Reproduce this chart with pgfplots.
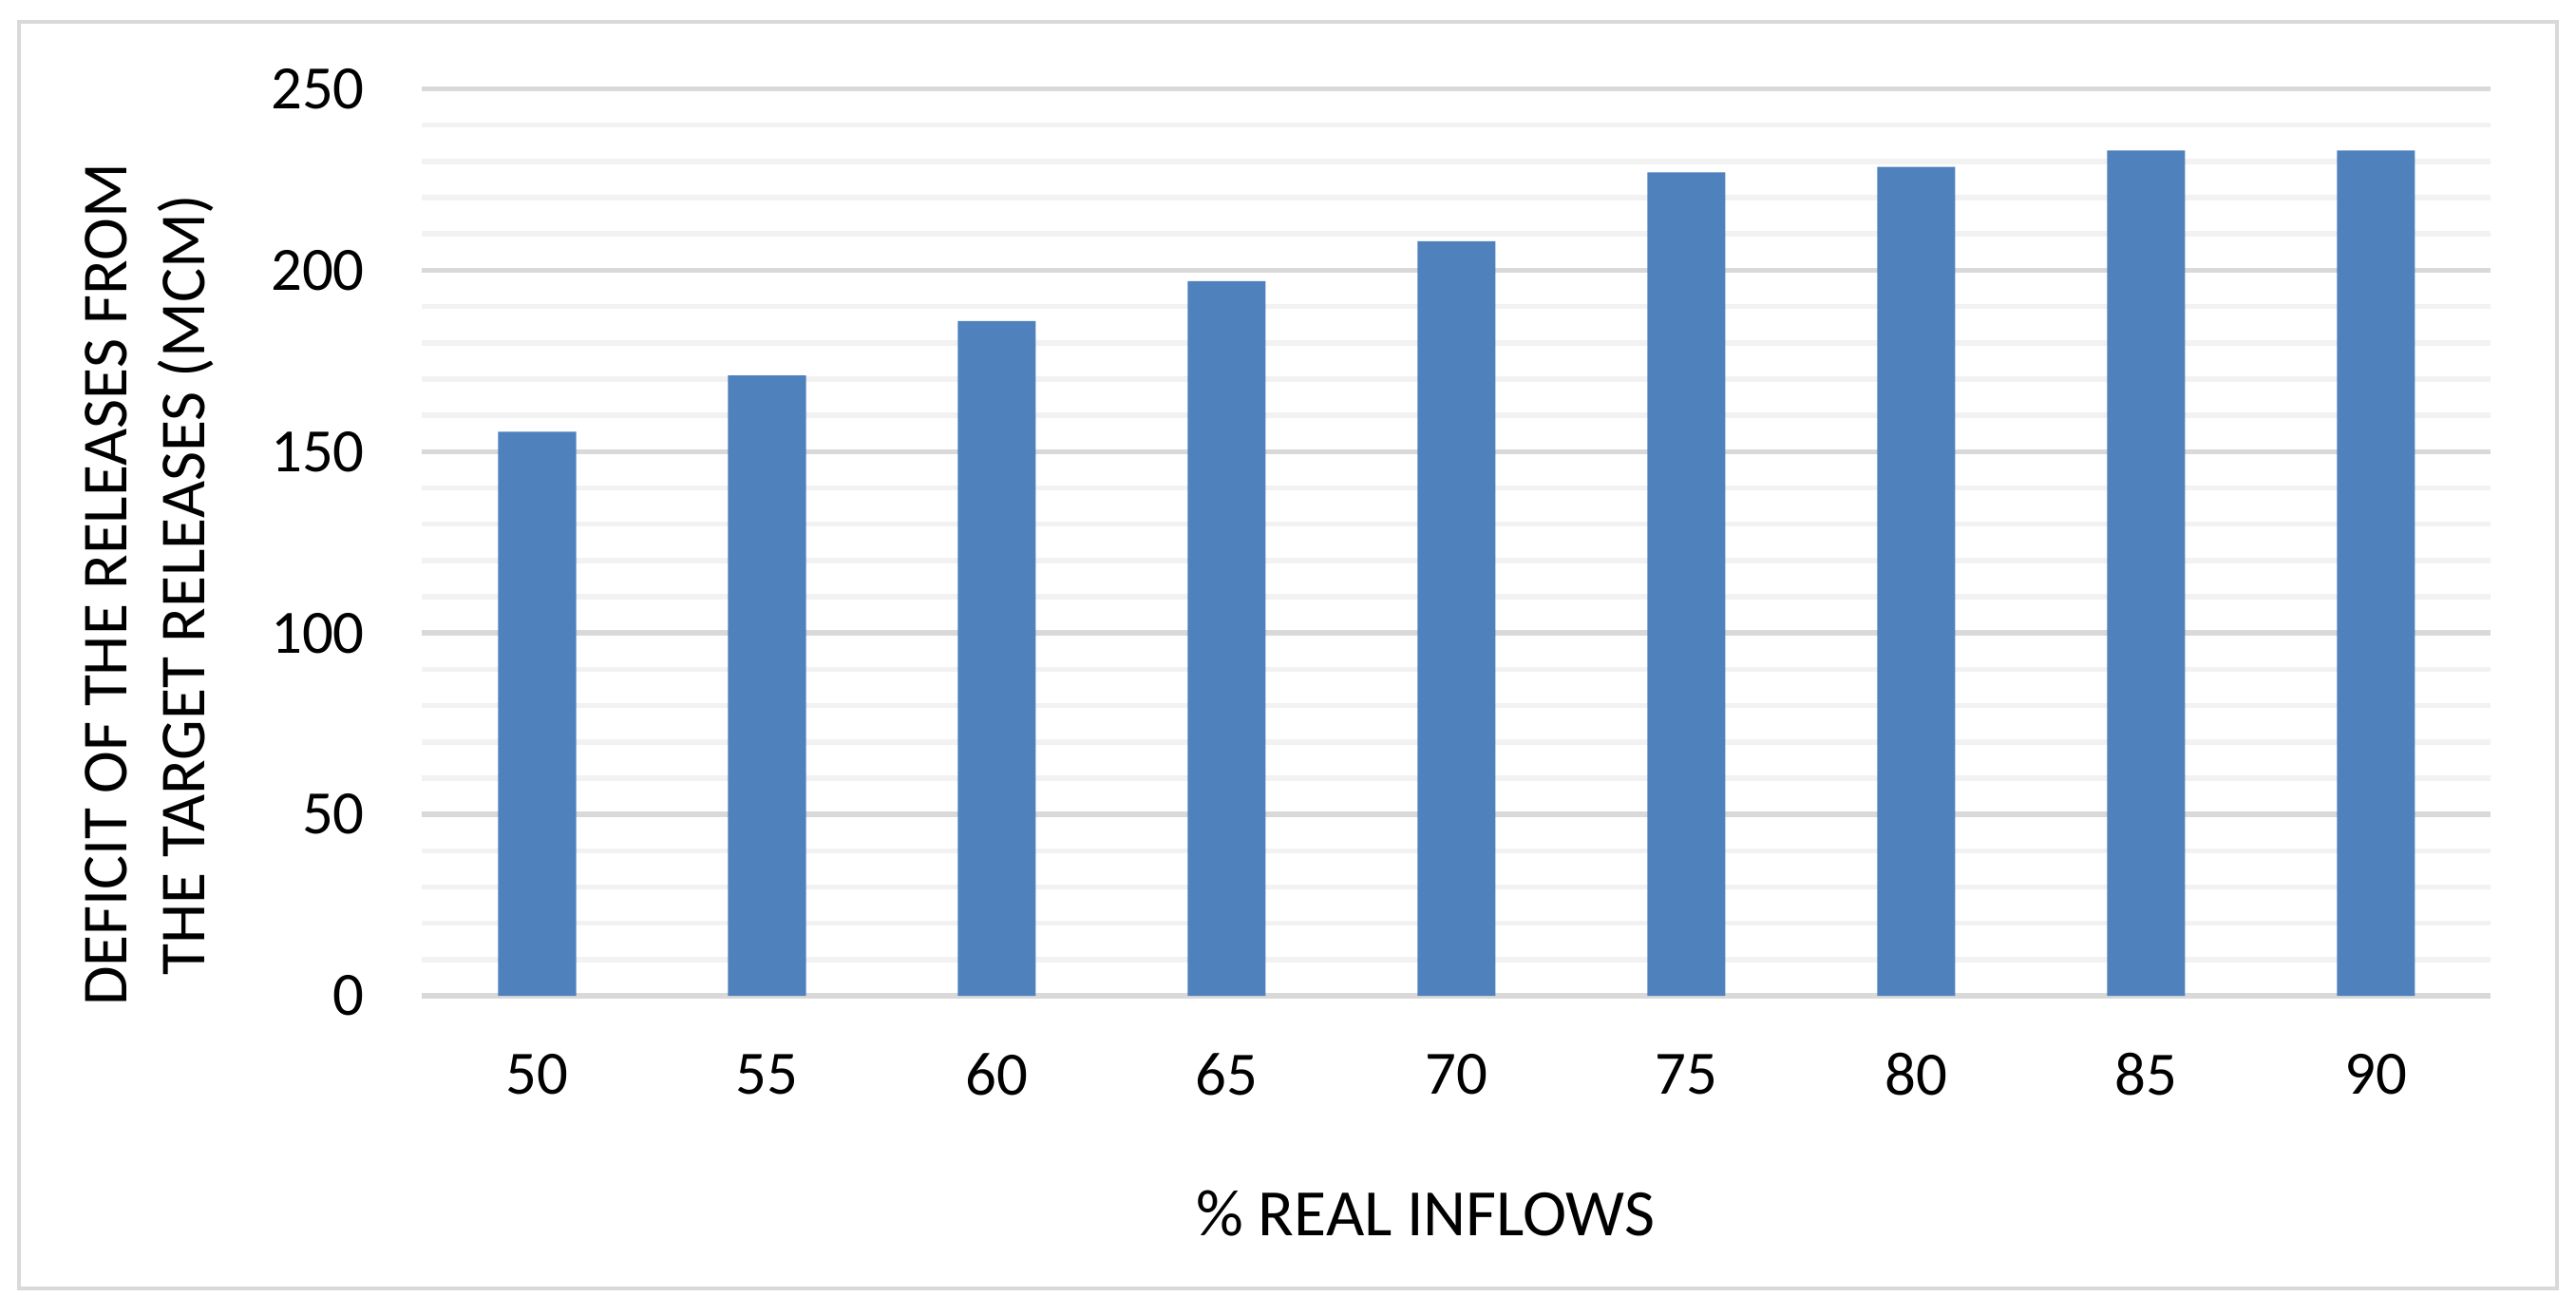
\documentclass[border=0pt]{standalone}
\usepackage{fontspec}
\setmainfont{Carlito}
\usepackage{pgfplots}
\pgfplotsset{compat=1.18}
\definecolor{barblue}{HTML}{4F81BD}
\definecolor{majgrid}{HTML}{D9D9D9}
\definecolor{mingrid}{HTML}{F2F2F2}

\begin{document}
\begin{tikzpicture}
\begin{axis}[
  ybar,
  scale only axis,
  width=315.8pt, height=138.4pt,
  xmin=47.5, xmax=92.5,
  ymin=0, ymax=250,
  xtick={50,55,...,90},
  ytick={0,50,...,250},
  minor y tick num=4,
  bar width=11.9pt,
  ymajorgrids=true, yminorgrids=true,
  major grid style={draw=majgrid, line width=0.8pt},
  minor grid style={draw=mingrid, line width=0.8pt},
  axis line style={draw=none},
  major tick length=0pt, minor tick length=0pt,
  /pgf/number format/assume math mode=true,
  tick label style={font=\fontsize{9.4}{11}\selectfont, inner sep=0pt},
  yticklabel style={anchor=east, xshift=-8.6pt},
  xticklabel style={anchor=center, yshift=-12pt},
  xlabel={\% REAL INFLOWS},
  ylabel={DEFICIT OF THE RELEASES FROM\\THE TARGET RELEASES (MCM)},
  every axis x label/.style={at={(axis description cs:0.4851,-0.2397)}, anchor=center,
    font=\fontsize{10.1}{12}\selectfont},
  every axis y label/.style={at={(axis description cs:-0.132,0.4534)}, anchor=center,
    rotate=90, align=center, font=\fontsize{9.8}{11.9}\selectfont},
]
\addplot[fill=barblue, draw=none]
  coordinates {(50,155.5)(55,171)(60,186)(65,197)(70,208)(75,227)(80,228.5)(85,233)(90,233)};
\end{axis}
\draw[majgrid, line width=0.7pt] (-61.55pt,-44.66pt) rectangle (325.89pt,148.63pt);
\pgfresetboundingbox
\useasboundingbox (-64.45pt,-48.72pt) rectangle (328.79pt,151.96pt);
\end{tikzpicture}
\end{document}
